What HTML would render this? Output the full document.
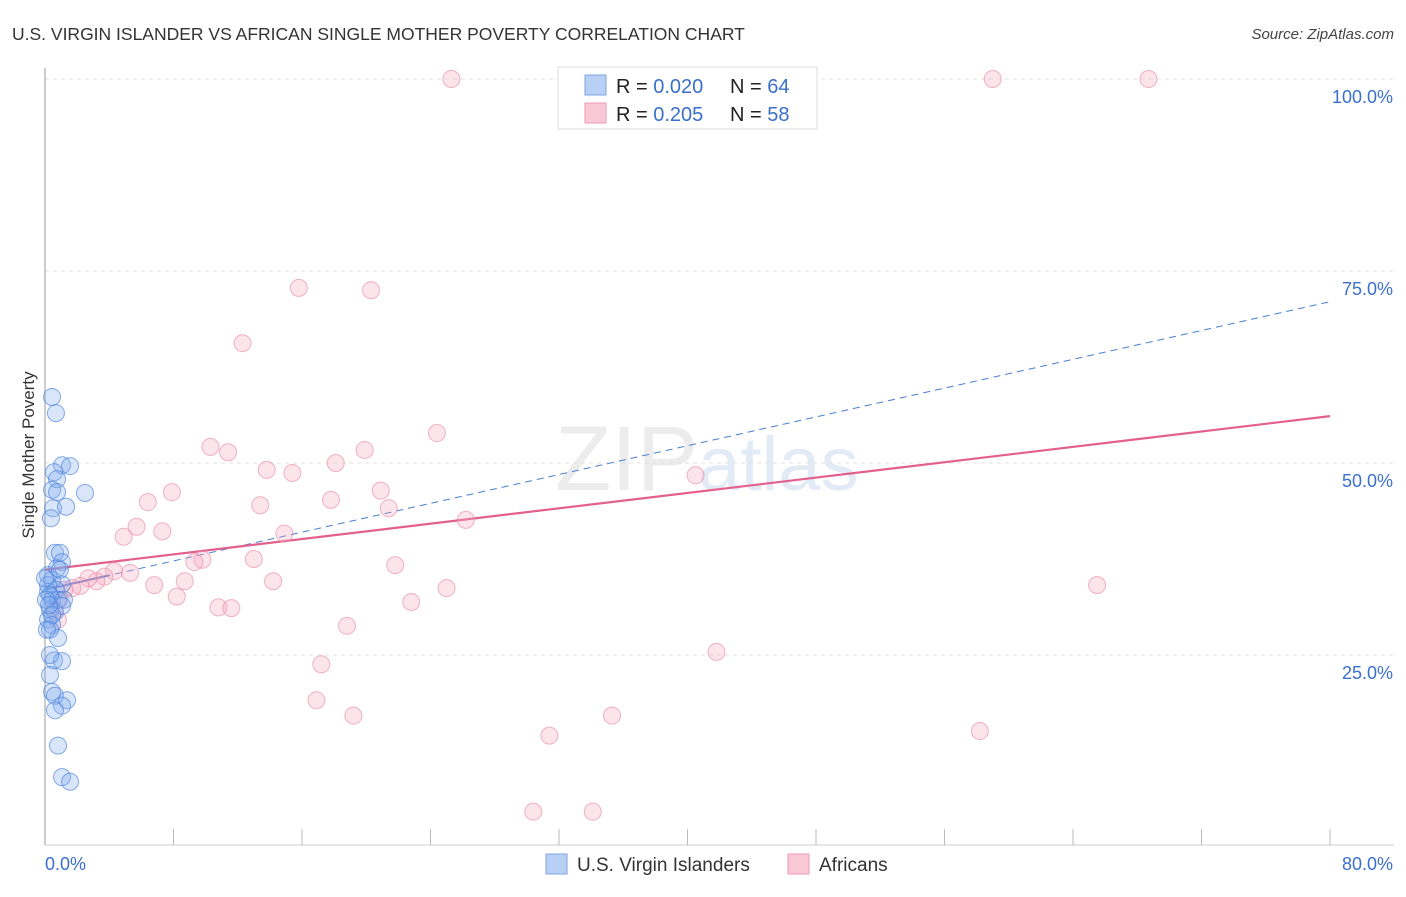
<!DOCTYPE html>
<html><head><meta charset="utf-8"><style>
body{margin:0;background:#fff;font-family:"Liberation Sans",sans-serif}
svg text{font-family:"Liberation Sans",sans-serif}
</style></head><body>
<svg id="chart" width="1406" height="892" xmlns="http://www.w3.org/2000/svg">
<text x="12" y="40" font-size="17.5" fill="#333">U.S. VIRGIN ISLANDER VS AFRICAN SINGLE MOTHER POVERTY CORRELATION CHART</text>
<text x="1394" y="39" font-size="15" fill="#444" font-style="italic" text-anchor="end">Source: ZipAtlas.com</text>
<text x="555" y="490" font-size="92" fill="#ececec" font-family="Liberation Serif">ZIP<tspan fill="#e2eaf6" font-family="Liberation Sans" font-size="76">atlas</tspan></text>
<text transform="translate(34,455) rotate(-90)" font-size="17" fill="#333" text-anchor="middle">Single Mother Poverty</text>
<g id="grid"></g><g id="axes"></g><g id="trend"></g><g id="pts"></g>
<g>
<rect x="558" y="67" width="259" height="62" fill="#fff" stroke="#ddd"/>
<rect x="585" y="75" width="21" height="20" fill="#b7d0f3" stroke="#7ea6e0"/>
<rect x="585" y="103" width="21" height="20" fill="#f9c8d6" stroke="#eb9ab3"/>
<text x="616" y="93" font-size="20" fill="#222">R = <tspan fill="#3a70cc">0.020</tspan><tspan x="730">N = </tspan><tspan fill="#3a70cc">64</tspan></text>
<text x="616" y="121" font-size="20" fill="#222">R = <tspan fill="#3a70cc">0.205</tspan><tspan x="730">N = </tspan><tspan fill="#3a70cc">58</tspan></text>
</g>
<g>
<rect x="546" y="854" width="21" height="20" fill="#b7d0f3" stroke="#7ea6e0"/>
<text x="577" y="871" font-size="19" fill="#333">U.S. Virgin Islanders</text>
<rect x="788" y="854" width="21" height="20" fill="#f9c8d6" stroke="#eb9ab3"/>
<text x="819" y="871" font-size="19" fill="#333">Africans</text>
</g>
<text x="45" y="870" font-size="18" fill="#3a70cc">0.0%</text>
<text x="1393" y="870" font-size="18" fill="#3a70cc" text-anchor="end">80.0%</text>
</svg>
<script>
const yTicks=[25,50,75,100];
const yTickLabels=["25.0%","50.0%","75.0%","100.0%"];
const xTicks=[0,8,16,24,32,40,48,56,64,72,80];
const blueX=[.44,.68,1.06,1.56,.56,.75,.44,.75,2.49,.5,1.31,.37,.62,.93,1.06,.75,.19,.44,1.06,.68,.19,.44,.81,1.18,.31,.62,1.06,.19,.44,.31,.81,.56,1.06,.31,.44,.62,1.37,1.06,.62,.81,1.06,1.56,.19,.31,.44,.06,.25,.93,0,.12,.31];
const blueY=[58.6,56.5,49.7,49.6,48.8,47.9,46.5,46.2,46.1,44.1,44.3,42.8,38.3,38.3,37.1,36.3,35.4,34.8,34.2,33.5,33.2,32.2,32.2,32.2,30.9,30.6,31.4,29.6,28.9,28.3,27.2,24.3,24.2,22.4,20.2,19.7,19.1,18.4,17.8,13.2,9.1,8.5,34.1,32.8,30.2,32.2,31.5,36.1,35.0,28.3,25.0];
const pinkX=[25.3,59.0,68.7,15.8,20.3,12.3,24.4,10.3,11.4,19.9,18.1,13.8,15.4,40.5,7.9,6.4,20.9,17.8,13.4,21.4,26.2,5.7,7.3,4.9,14.9,9.8,9.3,13.0,21.8,5.3,4.3,3.7,3.2,2.7,2.2,1.7,1.2,8.7,14.2,6.8,8.2,25.0,65.5,10.8,11.6,22.8,0.9,0.6,0.8,18.8,41.8,17.2,16.9,19.2,35.3,58.2,31.4,30.4,34.1];
const pinkY=[100,100,100,72.8,72.5,65.6,53.9,52.1,51.4,51.7,50.0,49.1,48.7,48.4,46.2,44.9,46.4,45.2,44.5,44.1,42.6,41.7,41.1,40.4,40.8,37.4,37.1,37.5,36.7,35.7,35.9,35.2,34.6,35.0,34.0,33.7,33.5,34.6,34.6,34.1,32.6,33.7,34.1,31.2,31.1,31.9,32.2,30.9,29.6,28.8,25.4,23.8,19.1,17.1,17.1,15.1,14.5,4.6,4.6];
const blueTrend=[33.5,71.0];
const pinkTrend=[36.1,56.1];
const NS="http://www.w3.org/2000/svg";
const sx=v=>45+v/80*1285, sy=v=>847-v/100*768;
function mk(tag,attrs,parent){const e=document.createElementNS(NS,tag);for(const k in attrs)e.setAttribute(k,attrs[k]);document.getElementById(parent).appendChild(e);return e;}
yTicks.forEach((t,i)=>{
  const l=mk('line',{x1:45,x2:1394,y1:sy(t),y2:sy(t),stroke:'#e2e2e2','stroke-dasharray':'4,4'},'grid');
  
  
  const tx=mk('text',{x:1393,y:sy(t)+24,'font-size':18,fill:'#3a70cc','text-anchor':'end'},'grid');
  tx.textContent=yTickLabels[i];
  
  
});
const ya=mk('line',{x1:45,x2:45,y1:68,y2:845,stroke:'#bbb','stroke-width':1.5},'axes');


const xa=mk('line',{x1:45,x2:1394,y1:845,y2:845,stroke:'#ccc'},'axes');


xTicks.forEach(t=>{
  const l=mk('line',{x1:sx(t),x2:sx(t),y1:829,y2:845,stroke:'#bbb'},'axes');
  
  
});
function dots(xs,ys,fill,stroke,name){xs.forEach((x,i)=>{
  const c=mk('circle',{cx:sx(x),cy:sy(ys[i]),r:8.5,fill:fill,stroke:stroke,'stroke-width':1},'pts');
  
  
});}
dots(pinkX,pinkY,'rgba(244,165,190,0.3)','rgba(232,140,168,0.65)','african-point');
dots(blueX,blueY,'rgba(130,172,238,0.3)','rgba(70,128,218,0.65)','virgin-islander-point');
const bt=mk('line',{x1:sx(0),y1:sy(blueTrend[0]),x2:sx(80),y2:sy(blueTrend[1]),stroke:'#4a7fd4','stroke-width':1,'stroke-dasharray':'7,5'},'trend');


const bs=mk('line',{x1:sx(0),y1:sy(blueTrend[0]),x2:sx(4),y2:sy(blueTrend[0]+(blueTrend[1]-blueTrend[0])*4/80),stroke:'#3a6fd0','stroke-width':2},'trend');


const pt=mk('line',{x1:sx(0),y1:sy(pinkTrend[0]),x2:sx(80),y2:sy(pinkTrend[1]),stroke:'#e4608c','stroke-width':2.2},'trend');


</script>
</body></html>
